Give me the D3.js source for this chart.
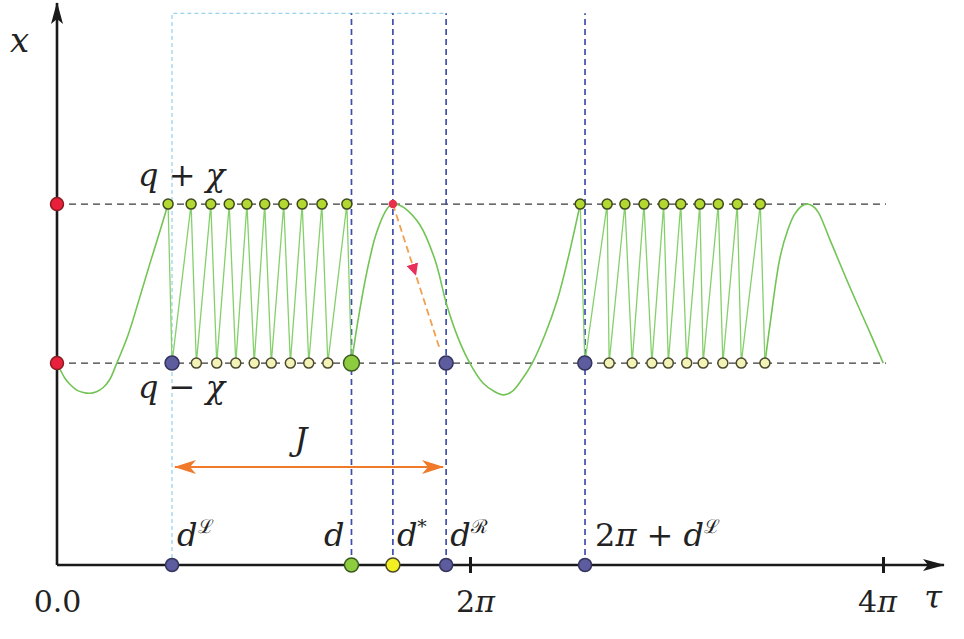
<!DOCTYPE html>
<html><head><meta charset="utf-8">
<script src="https://cdn.jsdelivr.net/npm/d3@7"></script>
<style>
body{margin:0;background:#fff}
</style>
</head><body>
<svg id="c" width="964" height="639"></svg>
<script>
const PI = Math.PI;
const FONT = "'DejaVu Serif', 'Liberation Serif', 'Times New Roman', serif";
// model values (x in arbitrary units, tau in radians)
const q = 3.54, chi = 1.0;
const dL = 1.75, dMain = 4.48, dStar = 5.11, dR = 5.92, dL2 = 2 * PI + 1.75;
const boxTop = 6.94;
const jumpEnd = [5.83, 2.70];

const curveA = [[0,2.54],[0.06,2.44],[0.12,2.35],[0.20,2.27],[0.30,2.20],[0.40,2.17],[0.50,2.16],[0.60,2.18],[0.70,2.23],[0.80,2.33],[0.91,2.54],[1.08,2.89],[1.26,3.37],[1.42,3.81],[1.57,4.21],[1.69,4.54]];
const curveB = [[4.48,2.54],[4.58,3.08],[4.72,3.71],[4.85,4.15],[4.99,4.44],[5.05,4.51],[5.11,4.54],[5.20,4.53],[5.29,4.49],[5.52,4.28],[5.75,3.84],[5.93,3.27],[6.10,2.86],[6.28,2.54],[6.48,2.29],[6.66,2.18],[6.79,2.14],[6.92,2.18],[7.07,2.33],[7.23,2.54],[7.42,2.89],[7.61,3.33],[7.77,3.84],[7.96,4.54]];
const curveC = [[10.77,2.54],[10.85,3.04],[11.00,3.87],[11.12,4.22],[11.22,4.41],[11.32,4.51],[11.41,4.54],[11.49,4.52],[11.58,4.44],[11.76,4.09],[12.06,3.50],[12.37,2.92],[12.57,2.54]];

const zig1Top = [1.69,2.04,2.34,2.62,2.89,3.16,3.45,3.73,4.03,4.41];
const zig1Bot = [1.75,2.12,2.43,2.72,3.00,3.26,3.55,3.83,4.12,4.48];
const zig2Top = [7.96,8.37,8.64,8.93,9.23,9.49,9.78,10.06,10.35,10.70];
const zig2Bot = [8.03,8.40,8.75,9.05,9.30,9.58,9.83,10.13,10.41,10.77];

const xTicks = [0, 2 * PI, 4 * PI];
const xTickLabels = [["0.0",""],["2","π"],["4","π"]];

const svg = d3.select("#c");
const xS = d3.scaleLinear().domain([0, 4 * PI]).range([57, 883]);
const yS = d3.scaleLinear().domain([0, 7.07]).range([565, 3]);
const qP = q + chi, qM = q - chi;
const tauEnd = xS.invert(944);

const defs = svg.append("defs");
function marker(id, color, w, h, path, refX) {
  defs.append("marker").attr("id", id).attr("viewBox", `0 0 ${w} ${h}`)
    .attr("refX", refX).attr("refY", h / 2).attr("markerWidth", w).attr("markerHeight", h)
    .attr("markerUnits", "userSpaceOnUse").attr("orient", "auto-start-reverse")
    .append("path").attr("d", path).attr("fill", color);
}
marker("ax", "#1a1a1a", 22, 12, "M0,0 L22,6 L0,12 L5,6 Z", 21);
marker("or", "#f07a2a", 22, 14, "M0,0 L22,7 L0,14 L6,7 Z", 21);
marker("rd", "#e8305a", 12, 12, "M0,0 L12,6 L0,12 Z", 6);

const line = d3.line().x(d => xS(d[0])).y(d => yS(d[1]));
const smooth = d3.line().x(d => xS(d[0])).y(d => yS(d[1])).curve(d3.curveCatmullRom.alpha(0.5));

[qP, qM].forEach(v => {
  svg.append("path").attr("d", line([[0, v], [xS.invert(886), v]]))
    .attr("stroke", "#3a3a3a").attr("stroke-width", 1.4).attr("stroke-dasharray", "7,5").attr("fill", "none");
});

svg.append("path").attr("d", line([[dL, 0], [dL, boxTop], [dR, boxTop]]))
  .attr("stroke", "#9ad4ec").attr("stroke-width", 1.3).attr("stroke-dasharray", "4,3").attr("fill", "none");

[dMain, dStar, dR, dL2].forEach(t => {
  svg.append("path").attr("d", line([[t, 0], [t, boxTop]]))
    .attr("stroke", "#3f4fae").attr("stroke-width", 1.7).attr("stroke-dasharray", "6,4").attr("fill", "none");
});

[curveA, curveB, curveC].forEach(c => {
  svg.append("path").attr("d", smooth(c)).attr("stroke", "#72c454").attr("stroke-width", 1.6).attr("fill", "none");
});
function zig(top, bot) {
  const pts = [];
  top.forEach((t, i) => { pts.push([t, qP]); pts.push([bot[i], qM]); });
  return pts;
}
[zig(zig1Top, zig1Bot), zig(zig2Top, zig2Bot)].forEach(p => {
  svg.append("path").attr("d", line(p)).attr("stroke", "#86d06c").attr("stroke-width", 1.3).attr("fill", "none");
});

const mid = d3.interpolateArray([dStar, qP], jumpEnd)(0.45);
svg.append("path").attr("d", line([[dStar, qP], mid, jumpEnd]))
  .attr("stroke", "#f0a050").attr("stroke-width", 1.8).attr("stroke-dasharray", "7,4").attr("fill", "none")
  .attr("marker-mid", "url(#rd)");

const yJ = yS.invert(467);
svg.append("path").attr("d", line([[xS.invert(175), yJ], [xS.invert(443), yJ]]))
  .attr("stroke", "#f07a2a").attr("stroke-width", 2).attr("fill", "none")
  .attr("marker-start", "url(#or)").attr("marker-end", "url(#or)");

function dot(t, v, r, fill, stroke) {
  svg.append("circle").attr("cx", xS(t)).attr("cy", yS(v)).attr("r", r)
    .attr("fill", fill).attr("stroke", stroke).attr("stroke-width", 1.5);
}
zig1Top.concat(zig2Top).forEach(t => dot(t, qP, 5, "#b4d832", "#3d4a1c"));
zig1Bot.slice(1, -1).concat(zig2Bot.slice(1)).forEach(t => dot(t, qM, 5, "#f3f3b8", "#4a4a30"));
dot(zig1Bot[0], qM, 7, "#5c5c9e", "#34345e");
dot(zig2Bot[0], qM, 7, "#5c5c9e", "#34345e");
dot(dR, qM, 7, "#5c5c9e", "#34345e");
dot(dMain, qM, 8, "#8ccc3e", "#3a5a1e");
dot(dStar, qP, 3.5, "#e8304a", "#e8304a");

svg.append("path").attr("d", line([[0, 0], [tauEnd, 0]])).attr("stroke", "#1a1a1a").attr("stroke-width", 2.6).attr("fill", "none").attr("marker-end", "url(#ax)");
svg.append("path").attr("d", line([[0, 0], [0, yS.invert(3)]])).attr("stroke", "#1a1a1a").attr("stroke-width", 2.6).attr("fill", "none").attr("marker-end", "url(#ax)");

const tickDx = [0, 5, -6];
const ax = svg.append("g").attr("transform", `translate(0,${yS(0) - 8})`)
  .call(d3.axisBottom(xS).tickValues(xTicks).tickSize(16).tickPadding(20).tickFormat(() => ""));
ax.attr("font-family", FONT);
ax.select(".domain").remove();
ax.selectAll(".tick line").attr("stroke", "#1a1a1a").attr("stroke-width", 3).filter(d => d === 0).remove();
ax.selectAll(".tick text").each(function(d, i) {
  const t = d3.select(this).attr("font-size", 30).attr("fill", "#222").style("font-family", FONT)
    .attr("dx", tickDx[i]).attr("dy", "0.62em");
  t.append("tspan").text(xTickLabels[i][0]);
  t.append("tspan").attr("font-style", "italic").text(xTickLabels[i][1]);
});

dot(dL, 0, 6.5, "#5c5c9e", "#34345e");
dot(dMain, 0, 7, "#8ccc3e", "#3a5a1e");
dot(dStar, 0, 7, "#f2ee22", "#4a4a2a");
dot(dR, 0, 6.5, "#5c5c9e", "#34345e");
dot(dL2, 0, 6.5, "#5c5c9e", "#34345e");
dot(0, qP, 6.5, "#e8203c", "#8a1a20");
dot(0, qM, 6.5, "#e8203c", "#8a1a20");

function label(x, y, parts, anchor) {
  const t = svg.append("text").attr("x", x).attr("y", y).attr("font-size", 32)
    .attr("text-anchor", anchor || "start").style("font-family", FONT).attr("fill", "#222");
  parts.forEach(p => {
    const s = t.append("tspan").text(p.t);
    if (p.i) s.attr("font-style", "italic");
    if (p.sup) s.attr("font-size", 19).attr("dy", -13);
  });
  return t;
}
label(10, 52, [{t: "x", i: 1}]).attr("font-size", 34);
label(933, 608, [{t: "τ", i: 1}], "middle");
label(138, 186, [{t: "q", i: 1}, {t: " + "}, {t: "χ", i: 1}]);
label(138, 398, [{t: "q", i: 1}, {t: " − "}, {t: "χ", i: 1}]);
label(xS(dL) + 5, 546, [{t: "d", i: 1}, {t: "ℒ", sup: 1}]);
label(xS(dMain) - 7, 546, [{t: "d", i: 1}], "end");
label(xS(dStar) + 4, 546, [{t: "d", i: 1}, {t: "*", sup: 1}]);
label(xS(dR) + 4, 546, [{t: "d", i: 1}, {t: "ℛ", sup: 1}]);
label(xS(dL2) + 10, 546, [{t: "2"}, {t: "π", i: 1}, {t: " + "}, {t: "d", i: 1}, {t: "ℒ", sup: 1}]);
label(301, 450, [{t: "J", i: 1}], "middle");
</script>
</body></html>
